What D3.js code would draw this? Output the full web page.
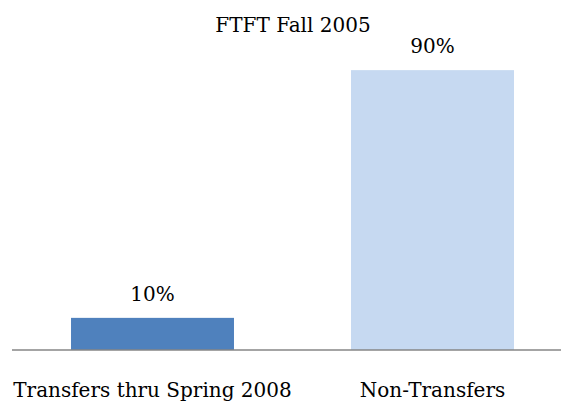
<!DOCTYPE html>
<html>
<head>
<meta charset="utf-8">
<script src="https://cdn.jsdelivr.net/npm/d3@7"></script>
<style>
  html, body { margin: 0; padding: 0; background: #ffffff; }
  svg { display: block; }
  text { font-family: "DejaVu Serif", "Liberation Serif", serif; fill: #000000; }
</style>
</head>
<body>
<script>
const title = "FTFT Fall 2005";
const categories = ["Transfers thru Spring 2008", "Non-Transfers"];
const values = [0.103, 0.897];
const labels = ["10%", "90%"];
const colors = ["#4F81BD", "#C6D9F1"];

const W = 561, H = 406;
const FONT = "DejaVu Serif, Liberation Serif, serif";
const FS = 20;
const svg = d3.select("body").append("svg").attr("width", W).attr("height", H);

const x = d3.scaleBand().domain(categories).range([12.5, 572.5])
  .paddingInner(0.418).paddingOuter(0.209);
const y = d3.scaleLinear().domain([0, 1]).range([350, 38]);

svg.append("text").attr("x", 293).attr("y", 32).attr("text-anchor", "middle")
  .attr("font-family", FONT).attr("font-size", FS).text(title);

svg.selectAll("rect.bar").data(values).join("rect").attr("class", "bar")
  .attr("x", (d, i) => x(categories[i]))
  .attr("width", x.bandwidth())
  .attr("y", d => y(d))
  .attr("height", d => y(0) - y(d))
  .attr("fill", (d, i) => colors[i]);

svg.selectAll("text.val").data(values).join("text").attr("class", "val")
  .attr("x", (d, i) => x(categories[i]) + x.bandwidth() / 2)
  .attr("y", d => y(d) - 17)
  .attr("text-anchor", "middle")
  .attr("font-family", FONT).attr("font-size", FS)
  .text((d, i) => labels[i]);

const axis = d3.axisBottom(x).tickSize(0).tickPadding(0);
const g = svg.append("g").attr("transform", "translate(0,350)").call(axis);
g.attr("font-family", FONT).attr("font-size", FS);
g.select(".domain").attr("stroke", "#868686").attr("stroke-width", 1.6)
  .attr("d", "M12,0H561");
g.selectAll(".tick text").attr("font-size", FS)
  .attr("font-family", FONT)
  .attr("fill", "#000").attr("dy", null).attr("y", 47);
</script>
</body>
</html>
